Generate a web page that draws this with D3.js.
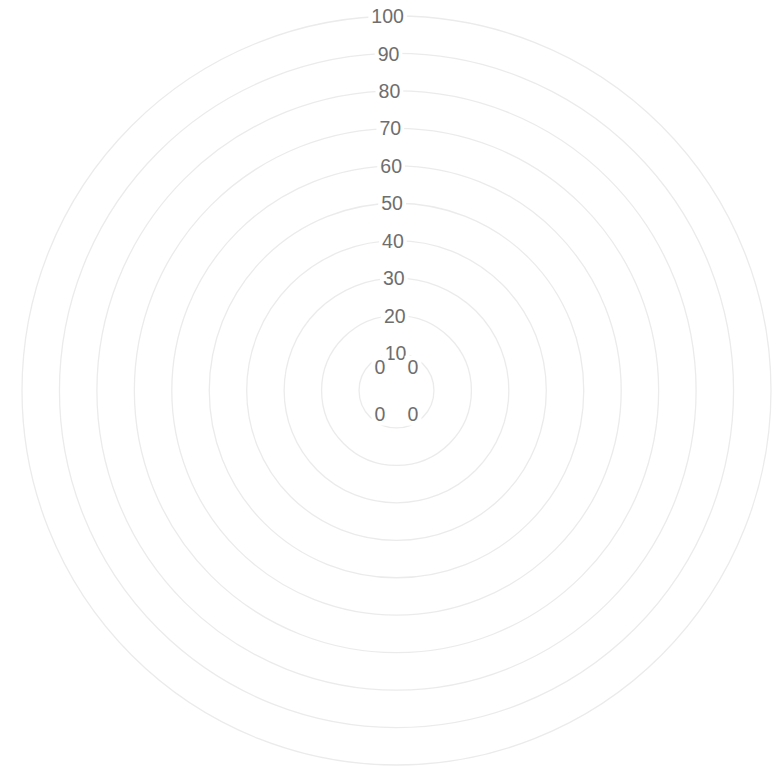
<!DOCTYPE html>
<html>
<head>
<meta charset="utf-8">
<script src="https://cdn.jsdelivr.net/npm/d3@7"></script>
<style>
    html, body { margin: 0; padding: 0; background: #fff; }
    svg { display: block; }
</style>
</head>
<body>
<svg id="chart"></svg>
<script>
// polar area chart, every segment is zero
var categories = ["A", "B", "C", "D"];
var values = [0, 0, 0, 0];
var tickValues = [10, 20, 30, 40, 50, 60, 70, 80, 90, 100];
var scaleMax = 100;

var svgWidth = 780,
    svgHeight = 767,
    centerX = 396.5,
    centerY = 390.5,
    outerRadius = 374.5,
    tickAngle = -0.0237,
    fontSize = 19.5,
    gridColor = "#ebebeb",
    textColor = "#6e6e6e";

var svg = d3.select("#chart")
    .attr("width", svgWidth)
    .attr("height", svgHeight);

var r = d3.scaleLinear().domain([0, scaleMax]).range([0, outerRadius]);

var g = svg.append("g")
    .attr("transform", "translate(" + centerX + "," + centerY + ")");

// grid rings
g.selectAll("circle.grid")
    .data(tickValues)
    .enter()
    .append("circle")
    .attr("class", "grid")
    .attr("r", function(d) { return r(d); })
    .style("fill", "none")
    .style("stroke", gridColor)
    .style("stroke-width", 1.3);

// segments (radius from value)
var pie = d3.pie().value(function() { return 1; }).sort(null);
var arc = d3.arc().innerRadius(0).outerRadius(function(d) { return r(d.data.value); });
var arcs = pie(categories.map(function(c, i) { return { name: c, value: values[i] }; }));

g.selectAll("path.seg")
    .data(arcs)
    .enter()
    .append("path")
    .attr("class", "seg")
    .attr("d", arc)
    .style("fill", "rgba(54,162,235,0.5)")
    .style("stroke", "#fff");

function labelWithBackdrop(parent, x, y, text, padX, padY) {
    var lg = parent.append("g");
    var rect = lg.append("rect").style("fill", "#fff");
    var t = lg.append("text")
        .attr("x", x)
        .attr("y", y + fontSize * 0.358)
        .attr("text-anchor", "middle")
        .style("font-family", "'Liberation Sans', Arial, Helvetica, sans-serif")
        .style("font-size", fontSize + "px")
        .style("fill", textColor)
        .text(text);
    var w = t.node().getComputedTextLength();
    rect.attr("x", x - w / 2 - padX)
        .attr("y", y - fontSize / 2 - padY)
        .attr("width", w + 2 * padX)
        .attr("height", fontSize + 2 * padY);
}

// tick labels along the (slightly turned) radial axis
var tickLayer = g.append("g");
tickValues.forEach(function(v) {
    var rr = r(v);
    labelWithBackdrop(tickLayer, rr * Math.sin(tickAngle), -rr * Math.cos(tickAngle), String(v), 3, 1);
});

// value labels of the segments
var valueLayer = g.append("g");
arcs.forEach(function(d) {
    var mid = (d.startAngle + d.endAngle) / 2;
    var sx = Math.sin(mid) >= 0 ? 1 : -1;
    var sy = -Math.cos(mid) >= 0 ? 1 : -1;
    labelWithBackdrop(valueLayer, sx * 16.5 + r(d.data.value), sy * 23 - (sy < 0 ? 0 : -0.3), String(d.data.value), 3, 2);
});
</script>
</body>
</html>
